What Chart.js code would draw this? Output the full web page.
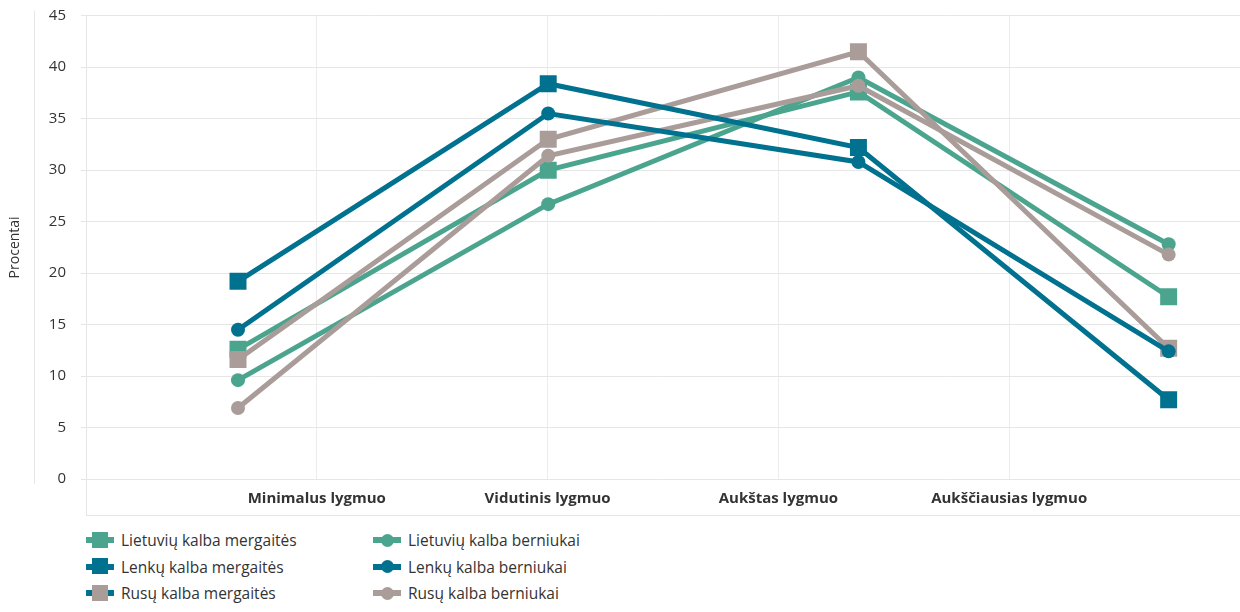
<!DOCTYPE html>
<html lang="lt">
<head>
<meta charset="utf-8">
<script src="https://cdn.jsdelivr.net/npm/chart.js"></script>
<style>
  html, body { margin: 0; padding: 0; background: #fff; }
  body { width: 1240px; height: 612px; position: relative; font-family: 'Open Sans', sans-serif; }
  #wrap { position: absolute; left: 0; top: 0; width: 1240px; height: 520px; }
  #legend { position: absolute; left: 86px; top: 527px; display: grid;
            grid-template-columns: 287px 260px; grid-auto-rows: 26.5px; }
  .item { display: flex; align-items: center; font-size: 15.5px; color: #333; white-space: nowrap; }
  .icon { position: relative; width: 28px; height: 17px; margin-right: 7px; }
  .icon .ln { position: absolute; left: 0; top: 5.5px; width: 28px; height: 6px; }
  .icon .mk { position: absolute; }
</style>
</head>
<body>
<div id="wrap"><canvas id="chart"></canvas></div>
<div id="legend"></div>
<script>
const categories = ['Minimalus lygmuo', 'Vidutinis lygmuo', 'Aukštas lygmuo', 'Aukščiausias lygmuo'];
const tickLabels = ['', ...categories, ''];
const yTicks = [0, 5, 10, 15, 20, 25, 30, 35, 40, 45];

const ltGirls = [12.6, 30.0, 37.6, 17.7];
const ltBoys  = [9.6, 26.7, 39.0, 22.8];
const plGirls = [19.2, 38.4, 32.2, 7.7];
const plBoys  = [14.5, 35.5, 30.8, 12.4];
const ruGirls = [11.6, 33.0, 41.5, 12.7];
const ruBoys  = [6.9, 31.4, 38.2, 21.8];

const GREEN = '#4ba58e';
const BLUE = '#00718f';
const GREY = '#aa9c99';

// taskai ant kategoriju (1..4)
const toPts = arr => arr.map((v, i) => ({ x: i + 1, y: v }));

const series = [
  { l: 'Lietuvių kalba mergaitės', d: ltGirls, c: GREEN, s: 'rect', o: 6 },
  { l: 'Lietuvių kalba berniukai', d: ltBoys, c: GREEN, s: 'circle', o: 5 },
  { l: 'Lenkų kalba mergaitės', d: plGirls, c: BLUE, s: 'rect', o: 2 },
  { l: 'Lenkų kalba berniukai', d: plBoys, c: BLUE, s: 'circle', o: 1 },
  { l: 'Rusų kalba mergaitės', d: ruGirls, c: GREY, s: 'rect', o: 4, legendLine: BLUE },
  { l: 'Rusų kalba berniukai', d: ruBoys, c: GREY, s: 'circle', o: 3 }
];

const htmlLegend = {
  id: 'htmlLegend',
  afterUpdate(chart) {
    const box = document.getElementById('legend');
    box.innerHTML = '';
    chart.data.datasets.forEach(ds => {
      const item = document.createElement('div');
      item.className = 'item';
      const icon = document.createElement('span');
      icon.className = 'icon';
      const ln = document.createElement('span');
      ln.className = 'ln';
      ln.style.background = ds.legendLine || ds.borderColor;
      const mk = document.createElement('span');
      mk.className = 'mk';
      mk.style.background = ds.borderColor;
      if (ds.pointStyle === 'rect') {
        Object.assign(mk.style, { left: '6px', top: '0px', width: '16px', height: '16px' });
      } else {
        Object.assign(mk.style, { left: '7.5px', top: '2px', width: '13px', height: '13px', borderRadius: '50%' });
      }
      icon.appendChild(ln);
      icon.appendChild(mk);
      const txt = document.createElement('span');
      txt.textContent = ds.label;
      item.appendChild(icon);
      item.appendChild(txt);
      box.appendChild(item);
    });
  }
};

// papildomos linijos: skirtukas prie asies pavadinimo ir x asies remelis
const frame = {
  id: 'frame',
  afterDraw(chart) {
    const { ctx, chartArea: a } = chart;
    const y = chart.scales.y;
    ctx.save();
    ctx.strokeStyle = '#e6e6e6';
    ctx.lineWidth = 1;
    ctx.beginPath();
    ctx.moveTo(y.left + 34.5, a.top - 5);
    ctx.lineTo(y.left + 34.5, a.bottom + 5);
    ctx.moveTo(a.left + 0.5, a.bottom);
    ctx.lineTo(a.left + 0.5, a.bottom + 36);
    ctx.moveTo(a.left, a.bottom + 36.5);
    ctx.lineTo(a.right, a.bottom + 36.5);
    ctx.stroke();
    ctx.restore();
  }
};

new Chart(document.getElementById('chart'), {
  type: 'line',
  data: {
    datasets: series.map(s => ({
      label: s.l,
      data: toPts(s.d),
      xAxisID: 'xPts',
      borderColor: s.c,
      backgroundColor: s.c,
      legendLine: s.legendLine,
      pointStyle: s.s,
      pointRadius: s.s === 'rect' ? 12 : 7,
      pointHoverRadius: s.s === 'rect' ? 12 : 7,
      pointBorderWidth: 0,
      borderWidth: 5,
      tension: 0,
      order: s.o
    }))
  },
  options: {
    responsive: true,
    maintainAspectRatio: false,
    animation: false,
    events: [],
    layout: { autoPadding: false, padding: { top: 6, right: 0, bottom: 12, left: 0 } },
    plugins: {
      legend: { display: false },
      tooltip: { enabled: false }
    },
    scales: {
      x: {
        type: 'category',
        labels: tickLabels,
        offset: false,
        grid: { color: '#ececec', drawTicks: true, tickLength: 11, tickColor: 'rgba(0,0,0,0)' },
        border: { display: false },
        ticks: {
          color: '#333',
          font: { family: 'Open Sans', size: 15, weight: 'bold' },
          padding: 0,
          maxRotation: 0,
          autoSkip: false
        }
      },
      xPts: {
        type: 'linear',
        display: false,
        min: 0.51,
        max: 4.23
      },
      y: {
        min: yTicks[0],
        max: yTicks[yTicks.length - 1],
        afterFit: scale => { scale.width = 86; },
        ticks: {
          stepSize: 5,
          color: '#333',
          font: { family: 'Open Sans', size: 15, lineHeight: 0.1 },
          padding: 15
        },
        grid: { color: '#e6e6e6', tickLength: 5, drawTicks: true },
        border: { display: true, color: '#e6e6e6' },
        title: {
          display: true,
          text: 'Procentai',
          color: '#333',
          font: { family: 'Open Sans', size: 14 },
          padding: { top: 7, bottom: 0 }
        }
      }
    }
  },
  plugins: [htmlLegend, frame]
});
</script>
</body>
</html>
